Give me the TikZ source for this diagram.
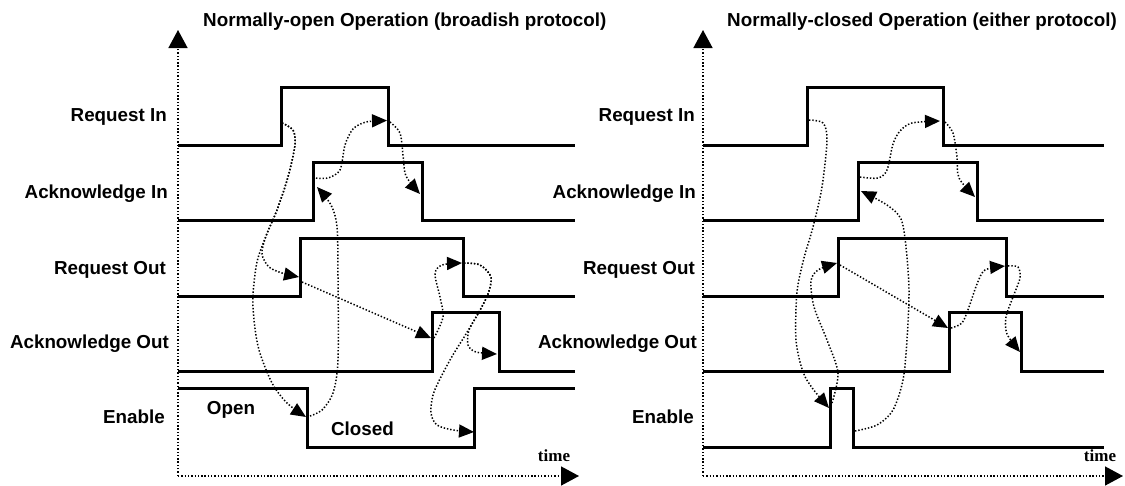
\documentclass[tikz,border=0pt]{standalone}
\usepackage{fontspec}
\setmainfont{Liberation Sans}
\newfontfamily\timefont{Liberation Serif}
\usetikzlibrary{arrows.meta}
\begin{document}
\begin{tikzpicture}[x=1pt,y=-1pt,
  signal/.style={line width=3pt,line join=miter},
  axisline/.style={line width=1.5pt,dash pattern=on 1.4pt off 1.9pt,-{Triangle[length=18pt,width=19pt]}},
  cause/.style={line width=1.5pt,dash pattern=on 1.4pt off 1.9pt,-{Triangle[length=15pt,width=13pt]}},
  lbl/.style={font=\bfseries\fontsize{18.8}{22}\selectfont,inner sep=0pt,anchor=base east},
  ttl/.style={font=\bfseries\fontsize{18.8}{22}\selectfont,inner sep=0pt,anchor=base west},
  tlbl/.style={font=\timefont\bfseries\fontsize{17}{20}\selectfont,inner sep=0pt,anchor=base},
  state/.style={font=\bfseries\fontsize{18.8}{22}\selectfont,inner sep=0pt,anchor=base}]
\useasboundingbox (0,0) rectangle (1125,485);

% ---------------- titles
\node[ttl] (tl) at (203,26) {Normally-open Operation (broadish protocol)};
\node[ttl] (tr) at (727,26) {Normally-closed Operation (either protocol)};

% ---------------- axes
\coordinate (Lo) at (178,476);
\coordinate (Ly) at (178,30);
\coordinate (Lx) at (579,476);
\coordinate (Ro) at (703,476);
\coordinate (Ry) at (703,30);
\coordinate (Rx) at (1123,476);
\draw[axisline] (Lo) -- (Ly);
\draw[axisline] (Lo) -- (Lx);
\draw[axisline] (Ro) -- (Ry);
\draw[axisline] (Ro) -- (Rx);
\node[tlbl] (tL) at (554,461.5) {time};
\node[tlbl] (tR) at (1100,461.5) {time};

% ---------------- labels left
\node[lbl] (l1) at (167,121) {Request In};
\node[lbl] (l2) at (168,198) {Acknowledge In};
\node[lbl] (l3) at (166,274) {Request Out};
\node[lbl] (l4) at (169,348) {Acknowledge Out};
\node[lbl] (l5) at (165,423) {Enable};
% ---------------- labels right
\node[lbl] (r1) at (695,121) {Request In};
\node[lbl] (r2) at (696,198) {Acknowledge In};
\node[lbl] (r3) at (695,274) {Request Out};
\node[lbl] (r4) at (697,348) {Acknowledge Out};
\node[lbl] (r5) at (694,423) {Enable};

\node[state] (open) at (231,414) {Open};
\node[state] (closed) at (362.5,435.5) {Closed};

% ---------------- signals left
\draw[signal] (178,145) -- (281,145) -- (281,87) -- (388,87) -- (388,145) -- (575,145);
\draw[signal] (178,220) -- (313,220) -- (313,162) -- (422,162) -- (422,220) -- (575,220);
\draw[signal] (178,296) -- (300,296) -- (300,238) -- (463,238) -- (463,296) -- (575,296);
\draw[signal] (178,371) -- (432,371) -- (432,312.5) -- (499,312.5) -- (499,371) -- (575,371);
\draw[signal] (178,388) -- (307.5,388) -- (307.5,447) -- (474.5,447) -- (474.5,388) -- (575,388);
% ---------------- signals right
\draw[signal] (703,145) -- (807,145) -- (807,87) -- (943,87) -- (943,145) -- (1104,145);
\draw[signal] (703,220) -- (858.5,220) -- (858.5,162) -- (977.5,162) -- (977.5,220) -- (1104,220);
\draw[signal] (703,296) -- (838.5,296) -- (838.5,238) -- (1006,238) -- (1006,296) -- (1104,296);
\draw[signal] (703,371) -- (949,371) -- (949,312.5) -- (1021.5,312.5) -- (1021.5,371) -- (1104,371);
\draw[signal] (703,447) -- (830,447) -- (830,388) -- (853,388) -- (853,447) -- (1104,447);

% ---------------- causal arrows left
\coordinate (LRIr) at (282,123);
\coordinate (LROr) at (299,277);
\coordinate (LENf) at (306,417);
\coordinate (LENf2) at (310,416);
\coordinate (LAIr) at (317,187);
\coordinate (LAIr2) at (316,178);
\coordinate (LRIf) at (387,120.5);
\coordinate (LRIf2) at (390,122);
\coordinate (LAIf) at (420,194);
\coordinate (LROr2) at (302,282);
\coordinate (LAOr) at (431,338);
\coordinate (LAOr2) at (434,338);
\coordinate (LROf) at (462,263);
\coordinate (LROf2) at (464,263);
\coordinate (LAOf) at (497,354);
\coordinate (LENr) at (474,432);

\draw[cause] plot[smooth] coordinates {(LRIr) (293,130) (295,145) (288,177) (277,210) (266,236) (262,254) (269,267) (282,273) (LROr)};
\draw[cause] plot[smooth] coordinates {(LRIr) (293,130) (295,145) (288,177) (277,210) (266,236) (257,262) (253,295) (254,320) (259,350) (272,383) (287,403) (LENf)};
\draw[cause] plot[smooth] coordinates {(LENf2) (322,410) (333,393) (338,360) (338,277) (337,227) (331,205) (LAIr)};
\draw[cause] plot[smooth] coordinates {(LAIr2) (328,178) (340,170) (345,145) (353,129) (366,122) (LRIf)};
\draw[cause] plot[smooth] coordinates {(LRIf2) (400,133) (403,155) (406,176) (LAIf)};
\draw[cause] (LROr2) -- (LAOr);
\draw[cause] plot[smooth] coordinates {(LAOr2) (443,317) (440,297) (435,274) (442,265) (LROf)};
\draw[cause] plot[smooth] coordinates {(LROf2) (480,265) (491,277) (488,294) (479,312) (469,330) (468,345) (476,352) (LAOf)};
\draw[cause] plot[smooth] coordinates {(LROf2) (480,265) (491,277) (488,294) (479,312) (466,334) (450,360) (434,392) (431,413) (437,425) (453,430) (LENr)};

% ---------------- causal arrows right
\coordinate (RRIr) at (809,120);
\coordinate (RENr) at (829,408);
\coordinate (RENr2) at (832,403);
\coordinate (RROr) at (837,263);
\coordinate (RENf) at (855,431);
\coordinate (RAIr) at (861,191);
\coordinate (RAIr2) at (860,177);
\coordinate (RRIf) at (940,121);
\coordinate (RRIf2) at (945,122);
\coordinate (RAIf) at (975,197);
\coordinate (RROr2) at (840,265);
\coordinate (RAOr) at (948,328);
\coordinate (RAOr2) at (951,328);
\coordinate (RROf) at (1005,266);
\coordinate (RROf2) at (1008,266);
\coordinate (RAOf) at (1020,352);

\draw[cause] plot[smooth] coordinates {(RRIr) (823,123) (827,140) (822,187) (813,227) (804,258) (797,292) (796,340) (803,372) (813,389) (RENr)};
\draw[cause] plot[smooth] coordinates {(RENr2) (838,373) (827,340) (814,307) (811,281) (818,270) (RROr)};
\draw[cause] plot[smooth] coordinates {(RENf) (877,425) (893,410) (903,380) (907,340) (909,290) (906,247) (901,219) (887,205) (RAIr)};
\draw[cause] plot[smooth] coordinates {(RAIr2) (878,178) (887,170) (893,144) (900,131) (912,123) (RRIf)};
\draw[cause] plot[smooth] coordinates {(RRIf2) (953,133) (957,157) (959,178) (RAIf)};
\draw[cause] (RROr2) -- (RAOr);
\draw[cause] plot[smooth] coordinates {(RAOr2) (962,323) (969,307) (977,284) (985,270) (RROf)};
\draw[cause] plot[smooth] coordinates {(RROf2) (1018,267) (1020,278) (1013,297) (1006,317) (1007,334) (RAOf)};
\end{tikzpicture}
\end{document}
